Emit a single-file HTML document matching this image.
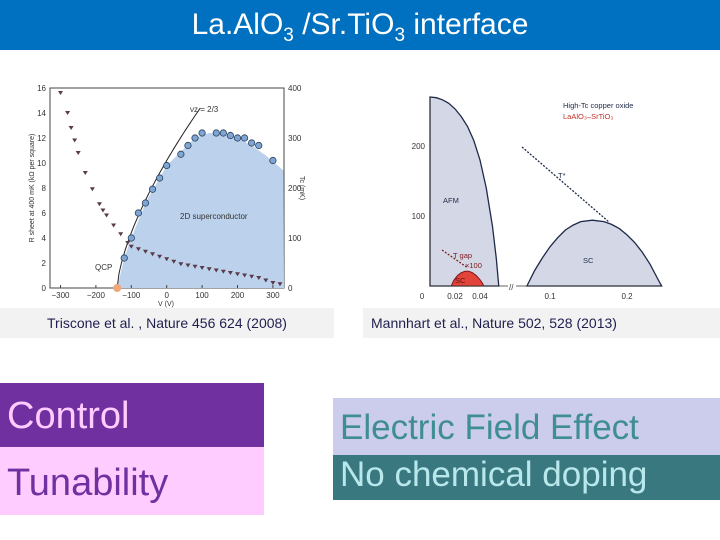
<!DOCTYPE html>
<html><head><meta charset="utf-8"><style>
body{margin:0;width:720px;height:540px;background:#fff;position:relative;overflow:hidden;font-family:"Liberation Sans",sans-serif}
.abs{position:absolute}
#title{left:0;top:0;width:720px;height:50px;background:#0070c0;color:#fff;font-size:30px;text-align:center;line-height:50px}
.cap{background:#f2f2f2;color:#1f1f4f;font-size:14px;line-height:30px;top:308px;height:30px}
.big{font-size:38px;line-height:1;box-sizing:border-box;padding-left:7px}
</style></head><body>
<div id="title" class="abs">La.AlO<sub style="font-size:19px">3</sub> /Sr.TiO<sub style="font-size:19px">3</sub> interface</div>

<svg id="left" class="abs" style="left:0;top:60px" width="340" height="248"></svg>
<svg id="right" class="abs" style="left:360px;top:60px" width="360" height="248"></svg>

<div class="abs cap" style="left:0;width:334px;text-align:center;padding-left:0">Triscone et al. , Nature 456 624 (2008)</div>
<div class="abs cap" style="left:363px;width:357px;padding-left:8px;box-sizing:border-box">Mannhart et al., Nature 502, 528 (2013)</div>

<div class="abs big" style="left:0;top:383px;width:264px;height:64px;background:#7030a0;color:#ffccff;line-height:66px">Control</div>
<div class="abs big" style="left:0;top:447px;width:264px;height:68px;background:#ffccff;color:#7030a0;line-height:72px">Tunability</div>
<div class="abs big" style="left:333px;top:398px;width:387px;height:57px;background:#ccccec;color:#3f8d95;font-size:35px;line-height:60px">Electric Field Effect</div>
<div class="abs big" style="left:333px;top:455px;width:387px;height:45px;background:#3a7880;color:#b8e8ec;font-size:35px;line-height:40px">No chemical doping</div>

<script>
// Left chart data
const leftXTicks=[-300,-200,-100,0,100,200,300];
const leftYTicks=[0,2,4,6,8,10,12,14,16];
const rightYTicks=[0,100,200,300,400];
const tcV=[-120,-100,-80,-60,-40,-20,0,40,60,80,100,140,160,180,200,220,240,260,300];
const tcVal=[2.4,4.0,6.0,6.8,7.9,8.8,9.8,10.7,11.4,12.0,12.4,12.4,12.4,12.2,12.0,12.0,11.6,11.4,10.2];
const rV=[-300,-280,-270,-260,-250,-230,-210,-190,-180,-170,-150,-130,-110,-100,-80,-60,-40,-20,0,20,40,60,80,100,120,140,160,180,200,220,240,260,280,300,320];
const rVal=[15.6,14.0,12.8,11.8,10.8,9.2,7.9,6.7,6.2,5.8,5.0,4.3,3.6,3.3,3.1,2.9,2.7,2.5,2.3,2.1,1.9,1.8,1.7,1.6,1.5,1.4,1.3,1.2,1.1,1.0,0.9,0.8,0.6,0.4,0.3];
const domeV=[-140,-120,-100,-60,-20,0,40,80,120,160,200,240,280,330];
const domeVal=[0,2.4,4.0,6.8,8.8,9.8,10.9,12.0,12.4,12.3,12.0,11.4,10.6,9.4];
// Right chart data
const afmX=[0,0.005,0.01,0.015,0.02,0.025,0.03,0.035,0.04,0.045,0.05,0.053,0.055];
const afmT=[270,269,266,261,253,242,228,208,180,140,85,40,0];
const scX=[0.07,0.08,0.09,0.10,0.11,0.12,0.13,0.14,0.155,0.17,0.18,0.19,0.20,0.21,0.22,0.23,0.24,0.245];
const scT=[0,22,40,56,69,80,87,92,94,92,88,82,73,62,48,31,10,0];
const redX=[0.017,0.019,0.022,0.025,0.028,0.031,0.034,0.037,0.04,0.042,0.043];
const redT=[0,8,15,19,21,21,19,15,9,4,0];
const rxTicks=[0,0.02,0.04,0.1,0.2];
const ryTicks=[100,200];

const NS='http://www.w3.org/2000/svg';
function mk(svg,tag,attrs,text){const e=document.createElementNS(NS,tag);for(const k in attrs)e.setAttribute(k,attrs[k]);if(text!==undefined)e.textContent=text;svg.appendChild(e);return e;}

// ---- LEFT ----
const L=document.getElementById('left');const oy=60;
const lx=v=>166.7+v*0.354, ly=v=>288-oy-v*12.5;
const ry2=v=>288-oy-v*0.5;
let fr=mk(L,'rect',{x:50,y:88-oy,width:234,height:200,fill:'none',stroke:'#444','stroke-width':1});

let d='M'+lx(domeV[0])+','+ly(domeVal[0]);
for(let i=1;i<domeV.length;i++)d+=' L'+Math.min(lx(domeV[i]),284)+','+ly(domeVal[i]);
d+=' L284,'+ly(0)+' Z';
let dome=mk(L,'path',{d:d,fill:'#bcd2ec'});

let lp='';for(let v=-140;v<=95;v+=5){const y=14.4*Math.pow((v+140)/235,2/3);lp+=(lp?' L':'M')+lx(v)+','+ly(y);}
let fit=mk(L,'path',{d:lp,fill:'none',stroke:'#222','stroke-width':1});

leftXTicks.forEach(t=>{let e=mk(L,'text',{x:lx(t),y:298-oy,'font-size':8,'text-anchor':'middle',fill:'#333'},t===0?'0':String(t).replace('-','\u2212'));mk(L,'line',{x1:lx(t),x2:lx(t),y1:288-oy,y2:285-oy,stroke:'#444'});});
leftYTicks.forEach(t=>{let e=mk(L,'text',{x:46,y:ly(t)+3,'font-size':8,'text-anchor':'end',fill:'#333'},t);});
rightYTicks.forEach(t=>{let e=mk(L,'text',{x:288,y:ry2(t)+3,'font-size':8,fill:'#333'},t);});
rV.forEach((v,i)=>{const x=lx(v),y=ly(rVal[i]);let p=mk(L,'path',{d:`M${x-2.5},${y-2} L${x+2.5},${y-2} L${x},${y+2} Z`,fill:'#5a3a4a'});});
tcV.forEach((v,i)=>{let c=mk(L,'circle',{cx:lx(v),cy:ly(tcVal[i]),r:3.2,fill:'#7ea6d4',stroke:'#2a3f5a','stroke-width':0.8});});
let q=mk(L,'circle',{cx:lx(-140),cy:ly(0),r:4,fill:'#f0a878'});
let t1=mk(L,'text',{x:95,y:270-oy,'font-size':8,fill:'#333'},'QCP');
let t2=mk(L,'text',{x:180,y:219-oy,'font-size':8,fill:'#333'},'2D superconductor');
let t3=mk(L,'text',{x:190,y:112-oy,'font-size':8,fill:'#333'},'\u03bdz = 2/3');
let t4=mk(L,'text',{x:166,y:306-oy,'font-size':7,'text-anchor':'middle',fill:'#333'},'V (V)');
let t5=mk(L,'text',{x:0,y:0,'font-size':7,'text-anchor':'middle',fill:'#333',transform:`translate(34,${188-oy}) rotate(-90)`},'R sheet at 400 mK (k\u03a9 per square)');
let t6=mk(L,'text',{x:0,y:0,'font-size':7,'text-anchor':'middle',fill:'#333',transform:`translate(300,${188-oy}) rotate(90)`},'Tc (mK)');

// ---- RIGHT ----
const R=document.getElementById('right');const ox=360;
const bx=x=>x<=0.06?(430+x*1250-ox):(550+(x-0.1)*770-ox);
const by=t=>286-oy-t*0.7;
function curve(xs,ts){let p='';xs.forEach((x,i)=>{p+=(i?' L':'M')+bx(x)+','+by(ts[i]);});return p;}
let afm=mk(R,'path',{d:curve(afmX,afmT)+' L'+bx(0)+','+by(0)+' Z',fill:'#d4d8e6',stroke:'#1e2a48','stroke-width':1.3});

let sc=mk(R,'path',{d:curve(scX,scT)+' Z',fill:'#d4d8e6',stroke:'#1e2a48','stroke-width':1.3});

let red=mk(R,'path',{d:curve(redX,redT)+' Z',fill:'#e2443a',stroke:'#7a1a1a','stroke-width':1});

let ax=mk(R,'path',{d:`M${430-ox},${97-oy} L${430-ox},${286-oy} L${660-ox},${286-oy}`,fill:'none',stroke:'#333','stroke-width':0.8});

mk(R,'rect',{x:508-ox,y:282-oy,width:8,height:8,fill:'#fff'});
mk(R,'text',{x:509-ox,y:290-oy,'font-size':8,fill:'#333'},'//');
rxTicks.forEach(t=>{let e=mk(R,'text',{x:t===0?422-ox:bx(t),y:299-oy,'font-size':8,'text-anchor':'middle',fill:'#333'},t===0?'0':String(t));});
ryTicks.forEach(t=>{let e=mk(R,'text',{x:425-ox,y:by(t)+3,'font-size':8,'text-anchor':'end',fill:'#333'},t);});
let ts=mk(R,'line',{x1:522-ox,y1:147-oy,x2:609-ox,y2:222-oy,stroke:'#1e2a48','stroke-width':1.3,'stroke-dasharray':'2,1.5'});
let tg=mk(R,'line',{x1:442-ox,y1:250-oy,x2:468-ox,y2:268-oy,stroke:'#7a1a1a','stroke-width':1.2,'stroke-dasharray':'2,1.5'});
const labs=[['T*',558,178,'#1e2a48','t-star-label'],['AFM',443,203,'#1e2a48','afm-label'],['SC',583,263,'#1e2a48','sc-label'],['SC',455,283,'#5a1010','red-sc-label'],['T gap',453,258,'#7a1a1a','t-gap-label'],['\u00d7100',465,268,'#7a1a1a','x100-label'],['High-Tc copper oxide',563,108,'#1e2a48','legend-cuprate'],['LaAlO\u2083\u2013SrTiO\u2083',563,119,'#c0302a','legend-lao-sto']];
labs.forEach(l=>{let e=mk(R,'text',{x:l[1]-ox,y:l[2]-oy,'font-size':7.5,fill:l[3]},l[0]);});
let yt=mk(R,'text',{x:0,y:0,'font-size':7.5,'text-anchor':'middle',fill:'#333',transform:`translate(401,${183-oy}) rotate(-90)`},'Temperature (K)');
</script>
</body></html>
